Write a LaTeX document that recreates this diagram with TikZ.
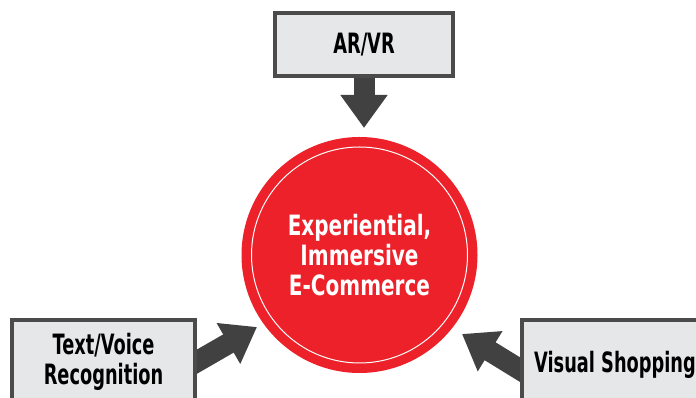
\documentclass[tikz,border=0pt]{standalone}
\usepackage{fontspec}
\setmainfont{DejaVu Sans}
\newfontfamily\boxfont[FakeStretch=0.635]{DejaVu Sans}
\newfontfamily\hubfont[FakeStretch=0.715]{DejaVu Sans}
\usetikzlibrary{arrows.meta,backgrounds}

\definecolor{hubred}{HTML}{EC2129}
\definecolor{boxfill}{HTML}{E6E7E9}
\definecolor{boxline}{HTML}{4B4B4B}
\definecolor{arrowgray}{HTML}{414141}

\tikzset{
  topicbox/.style={draw=boxline, line width=4pt, fill=boxfill, rectangle,
    inner sep=0pt, align=center, text=black,
    font=\boxfont\bfseries\fontsize{28}{29.5}\selectfont},
  hub/.style={circle, fill=hubred, inner sep=0pt, minimum size=236pt,
    align=center, text=white,
    font=\hubfont\bfseries\fontsize{28}{30}\selectfont},
  blockarrow/.style={draw=arrowgray, line width=21pt,
    -{Triangle[length=33pt,width=45pt,fill=arrowgray]}}
}

\begin{document}
\begin{tikzpicture}[x=1pt,y=1pt]
  \useasboundingbox (0,0) rectangle (696,398);
  \clip (0,0) rectangle (696,398);

  % central circle with its thin white ring
  \node[hub] (hub) at (359.5,143) {Experiential,\\Immersive\\E-Commerce};
  \draw[white, line width=1pt] (hub.center) circle[radius=108pt];

  % the three feeding topics
  \node[topicbox, minimum width=178pt, minimum height=63pt]
    (arvr) at (364,353.5) {AR/VR};
  \node[topicbox, minimum width=183pt, minimum height=84pt]
    (tvr) at (103.5,36) {Text/Voice\\Recognition};
  \node[topicbox, minimum width=186pt, minimum height=90pt]
    (vis) at (615,33) {Visual Shopping};

  % arrow end points
  \coordinate (arvrtip) at (364,270);
  \coordinate (tvrstart) at (186,30);
  \coordinate (tvrtip) at (257,71);
  \coordinate (visstart) at (532,21);
  \coordinate (vistip) at (462,64);

  \begin{scope}[on background layer]
    \draw[blockarrow] (arvr.south) -- (arvrtip);
    \draw[blockarrow] (tvrstart) -- (tvrtip);
    \draw[blockarrow] (visstart) -- (vistip);
  \end{scope}
\end{tikzpicture}
\end{document}
